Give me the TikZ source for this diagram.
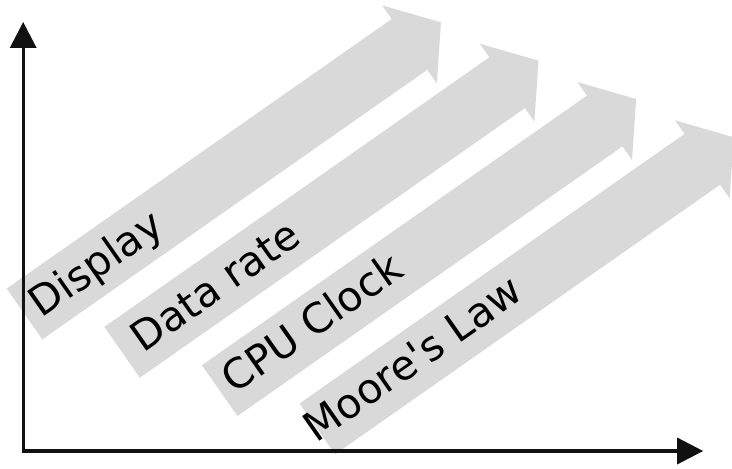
\documentclass[tikz,border=0pt]{standalone}
\usepackage{fontspec}
\setmainfont{DejaVu Sans}
\usetikzlibrary{arrows.meta}
\definecolor{bandgray}{RGB}{217,217,217}
\definecolor{axisblack}{RGB}{17,17,17}
\tikzset{
  trend/.style={fill=bandgray, draw=none},
  trendlabel/.style={anchor=base west, rotate=35, inner sep=0pt,
    font=\fontsize{29.3}{35}\selectfont},
  axis/.style={draw=axisblack, line width=2.4pt,
    {Triangle[length=0.65cm,width=0.65cm]}-{Triangle[length=0.65cm,width=0.65cm]}}
}
\begin{document}
\begin{tikzpicture}
  \useasboundingbox (0,0) rectangle (18.3,11.725);
  \foreach \i/\txt/\dx/\dy in {0/Display/0.275/-0.35,
                               1/Data rate/0.41/-0.34,
                               2/CPU Clock/0.24/-0.3,
                               3/Moore\textquotesingle s Law/-0.235/-0.29} {
    \begin{scope}[shift={({0.6125+2.44*\i},{3.875-0.9575*\i})}, rotate=35]
      \fill[trend] (0,-0.775) -- (11.75,-0.775) -- (11.75,-1.19) -- (12.71,0)
        -- (11.75,1.19) -- (11.75,0.775) -- (0,0.775) -- cycle;
      \node[trendlabel] (label\i) at (\dx,\dy) {\txt};
    \end{scope}
  }
  \coordinate (origin) at (0.58,0.45);
  \coordinate (ytip) at (0.58,11.175);
  \coordinate (xtip) at (17.58,0.45);
  \draw[axis] (ytip) -- (origin) -- (xtip);
\end{tikzpicture}
\end{document}
